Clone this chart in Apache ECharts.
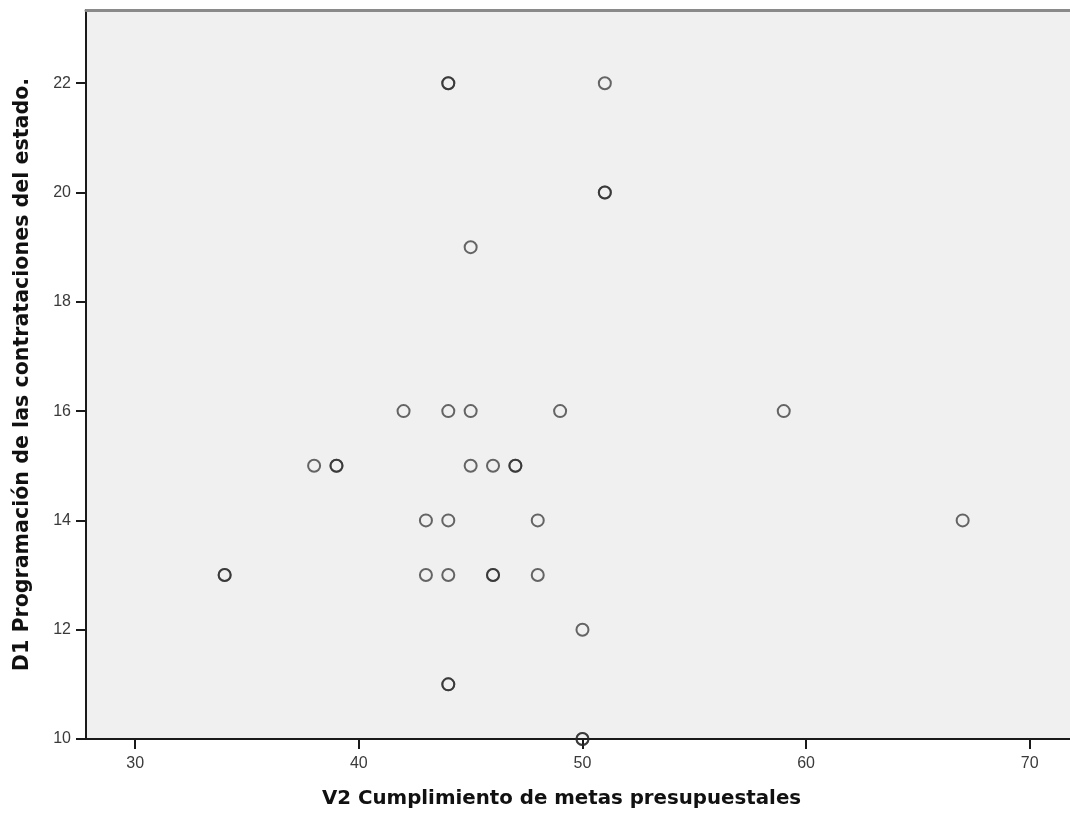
<!DOCTYPE html>
<html>
<head>
<meta charset="utf-8">
<script src="https://cdn.jsdelivr.net/npm/echarts@6/dist/echarts.min.js"></script>
<style>html,body{margin:0;padding:0;background:#fff;}#c{width:1070px;height:814px;}</style>
</head>
<body>
<div id="c"></div>
<script>
var xValues = [44,44,51, 51,51, 45, 42,44,45,49,59, 38,39,39,45,46,47,47, 43,44,48,67, 34,34,43,44,46,46,48, 50, 44,44, 50,50];
var yValues = [22,22,22, 20,20, 19, 16,16,16,16,16, 15,15,15,15,15,15,15, 14,14,14,14, 13,13,13,13,13,13,13, 12, 11,11, 10,10];
var xTicks = [30,40,50,60,70];
var yTicks = [10,12,14,16,18,20,22];
var xTitle = 'V2 Cumplimiento de metas presupuestales';
var yTitle = 'D1 Programación de las contrataciones del estado.';

var points = xValues.map(function(v,i){return [v, yValues[i]];});
var chart = echarts.init(document.getElementById('c'), null, {renderer:'canvas'});
var font = 'Liberation Sans, Arial, sans-serif';
var titleFont = 'DejaVu Sans, Verdana, sans-serif';
chart.setOption({
  backgroundColor:'#ffffff',
  animation:false,
  grid:{left:86, top:10, right:0, bottom:75, show:true, backgroundColor:'#f0f0f0', borderWidth:0, containLabel:false, outerBoundsMode:'none'},
  xAxis:[{
    type:'value', min:27.8, max:71.8, interval:10,
    axisLine:{show:true, onZero:false, lineStyle:{color:'#1a1a1a', width:2}},
    axisTick:{show:true, length:10, lineStyle:{color:'#1a1a1a', width:2}, customValues:xTicks},
    axisLabel:{color:'#3a3a3a', fontSize:16, fontFamily:font, margin:17, customValues:xTicks},
    splitLine:{show:false}
  },{
    type:'value', position:'top', min:27.8, max:71.8,
    axisLine:{show:true, lineStyle:{color:'#8a8a8a', width:3}},
    axisTick:{show:false}, axisLabel:{show:false}, splitLine:{show:false}
  }],
  yAxis:{
    type:'value', min:10, max:23.34, interval:2,
    name:yTitle, nameLocation:'middle', nameGap:53,
    nameTextStyle:{color:'#111', fontSize:20.6, fontWeight:'bold', fontFamily:titleFont},
    axisLine:{show:true, lineStyle:{color:'#1a1a1a', width:2}},
    axisTick:{show:true, length:10, lineStyle:{color:'#1a1a1a', width:2}, customValues:yTicks},
    axisLabel:{color:'#3a3a3a', fontSize:16, fontFamily:font, margin:15, customValues:yTicks},
    splitLine:{show:false}
  },
  graphic:[{
    type:'text', left:322, top:789,
    style:{text:xTitle, fill:'#111', fontSize:19.8, fontWeight:'bold', fontFamily:titleFont}
  }],
  series:[{
    type:'scatter', data:points, symbol:'circle', symbolSize:12, clip:true,
    itemStyle:{color:'rgba(0,0,0,0)', borderColor:'rgba(40,40,40,0.7)', borderWidth:2, opacity:1}
  }]
});
</script>
</body>
</html>
